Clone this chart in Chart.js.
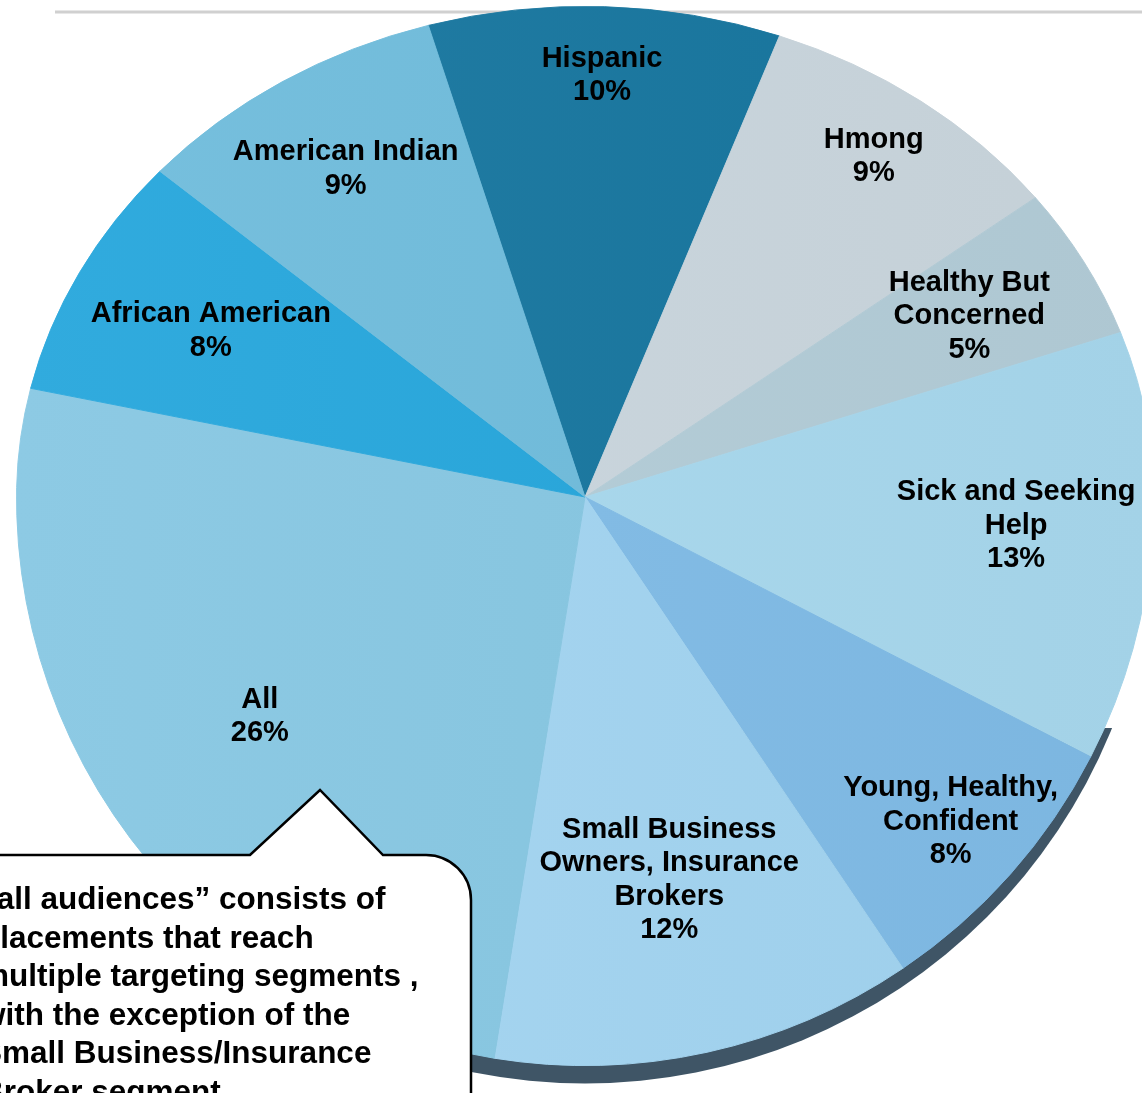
<!DOCTYPE html>
<html>
<head>
<meta charset="utf-8">
<script src="https://cdn.jsdelivr.net/npm/chart.js@4.4.1/dist/chart.umd.min.js"></script>
<style>
html, body { margin: 0; padding: 0; background: #fff; overflow: hidden; width: 1142px; height: 1093px; }
#wrap { position: absolute; left: -115px; top: -203px; width: 1400px; height: 1400px; }
</style>
</head>
<body>
<div id="wrap"><canvas id="segments" width="1400" height="1400"></canvas></div>
<script>
// data, clockwise from the top
const segments = ["Hispanic", "Hmong", "Healthy But Concerned", "Sick and Seeking Help",
    "Young, Healthy, Confident", "Small Business Owners, Insurance Brokers",
    "All", "African American", "American Indian"];
const shares = [10, 9, 5, 13, 8, 12, 26, 8, 9];
const labelLines = [
    ["Hispanic"],
    ["Hmong"],
    ["Healthy But", "Concerned"],
    ["Sick and Seeking", "Help"],
    ["Young, Healthy,", "Confident"],
    ["Small Business", "Owners, Insurance", "Brokers"],
    ["All"],
    ["African American"],
    ["American Indian"]
];
const calloutLines = [
    "\u201call audiences\u201d consists of",
    "placements that reach",
    "multiple targeting segments ,",
    "with the exception of the",
    "Small Business/Insurance",
    "Broker segment"
];

// styling
const sliceColors = ["#16769f", "#cad6de", "#b3cdd8", "#a8d9ee", "#80bce7",
                     "#a2d4f1", "#86c7e2", "#24a6dc", "#6ebcdc"];
const labelRadius = [0.86, 0.86, 0.77, 0.76, 0.86, 0.69, 0.69, 0.74, 0.79];
const TILT_TOP = 0.863;   // the far half of the pie is squashed (3d tilt)
const TILT_BOTTOM = 1.0;
const OX = 115, OY = 203; // page -> canvas offset

function mix(hex, target, t) {
    const n = parseInt(hex.slice(1), 16);
    const c = [(n >> 16) & 255, (n >> 8) & 255, n & 255].map(v => Math.round(v + (target - v) * t));
    return "rgb(" + c.join(",") + ")";
}

function sliceFill(context) {
    const base = sliceColors[context.dataIndex];
    const area = context.chart.chartArea;
    if (!area) return base;
    const g = context.chart.ctx.createLinearGradient(area.left, 0, area.right, 0);
    g.addColorStop(0, mix(base, 255, 0.06));
    g.addColorStop(1, mix(base, 0, 0.03));
    return g;
}

function tilt(ctx, cx, cy, k) {
    ctx.translate(cx, cy);
    ctx.scale(1, k);
    ctx.translate(-cx, -cy);
}

const tiltedPie = {
    id: "tiltedPie",
    beforeDatasetsDraw(chart) {
        const ctx = chart.ctx;
        const arc = chart.getDatasetMeta(0).data[0];
        const cx = arc.x, cy = arc.y, r = arc.outerRadius;

        // rule line at the top of the slide
        ctx.save();
        ctx.strokeStyle = "#d0d0d0";
        ctx.lineWidth = 3;
        ctx.beginPath();
        ctx.moveTo(55 + OX, 12 + OY);
        ctx.lineTo(1142 + OX, 12 + OY);
        ctx.stroke();
        ctx.restore();

        // dark side of the 3d pie
        ctx.save();
        ctx.beginPath();
        ctx.rect(440 + OX, 728 + OY, 900, 600);
        ctx.clip();
        ctx.fillStyle = "#3f5566";
        ctx.beginPath();
        ctx.ellipse(cx, cy + 18, r, r * TILT_BOTTOM, 0, 0, Math.PI * 2);
        ctx.fill();
        ctx.restore();

        // far half
        ctx.save();
        ctx.beginPath();
        ctx.rect(0, 0, chart.width, cy);
        ctx.clip();
        tilt(ctx, cx, cy, TILT_TOP);
    },
    afterDatasetsDraw(chart) {
        const ctx = chart.ctx;
        ctx.restore();
        const meta = chart.getDatasetMeta(0);
        const arc = meta.data[0];
        // near half
        ctx.save();
        ctx.beginPath();
        ctx.rect(0, arc.y, chart.width, chart.height - arc.y);
        ctx.clip();
        tilt(ctx, arc.x, arc.y, TILT_BOTTOM);
        meta.controller.draw();
        ctx.restore();
    },
    afterDraw(chart) {
        const ctx = chart.ctx;
        const meta = chart.getDatasetMeta(0);

        ctx.save();
        ctx.fillStyle = "#000";
        ctx.font = "bold 29px 'Liberation Sans', Arial, sans-serif";
        ctx.textAlign = "center";
        ctx.textBaseline = "middle";
        meta.data.forEach((arc, i) => {
            const mid = (arc.startAngle + arc.endAngle) / 2;
            const rr = arc.outerRadius * labelRadius[i];
            const k = Math.sin(mid) < 0 ? TILT_TOP : TILT_BOTTOM;
            const x = arc.x + Math.cos(mid) * rr;
            const y = arc.y + Math.sin(mid) * rr * k;
            const lines = labelLines[i].concat([shares[i] + "%"]);
            const lh = 33.5;
            const y0 = y - (lines.length - 1) * lh / 2;
            lines.forEach((t, j) => ctx.fillText(t, x, y0 + j * lh));
        });
        ctx.restore();

        // callout box
        const left = -40 + OX, top = 855 + OY, right = 471 + OX, bottom = 1150 + OY, rad = 45;
        ctx.save();
        ctx.beginPath();
        ctx.moveTo(left, top);
        ctx.lineTo(250 + OX, top);
        ctx.lineTo(320 + OX, 790 + OY);
        ctx.lineTo(383 + OX, top);
        ctx.lineTo(right - rad, top);
        ctx.arcTo(right, top, right, top + rad, rad);
        ctx.lineTo(right, bottom);
        ctx.lineTo(left, bottom);
        ctx.closePath();
        ctx.fillStyle = "#fff";
        ctx.fill();
        ctx.strokeStyle = "#000";
        ctx.lineWidth = 2.5;
        ctx.stroke();

        ctx.fillStyle = "#000";
        ctx.font = "bold 31.5px 'Liberation Sans', Arial, sans-serif";
        ctx.textAlign = "left";
        ctx.textBaseline = "alphabetic";
        calloutLines.forEach((t, j) => ctx.fillText(t, -19 + OX, 909 + OY + j * 38.5));
        ctx.restore();
    }
};

new Chart(document.getElementById("segments"), {
    type: "pie",
    data: {
        labels: segments,
        datasets: [
            {
                data: shares,
                backgroundColor: sliceFill,
                borderColor: sliceFill,
                borderWidth: 1
            }
        ]
    },
    options: {
        responsive: false,
        animation: false,
        events: [],
        rotation: -16,
        layout: { padding: 131 },
        plugins: {
            legend: { display: false },
            tooltip: { enabled: false }
        }
    },
    plugins: [tiltedPie]
});
</script>
</body>
</html>
